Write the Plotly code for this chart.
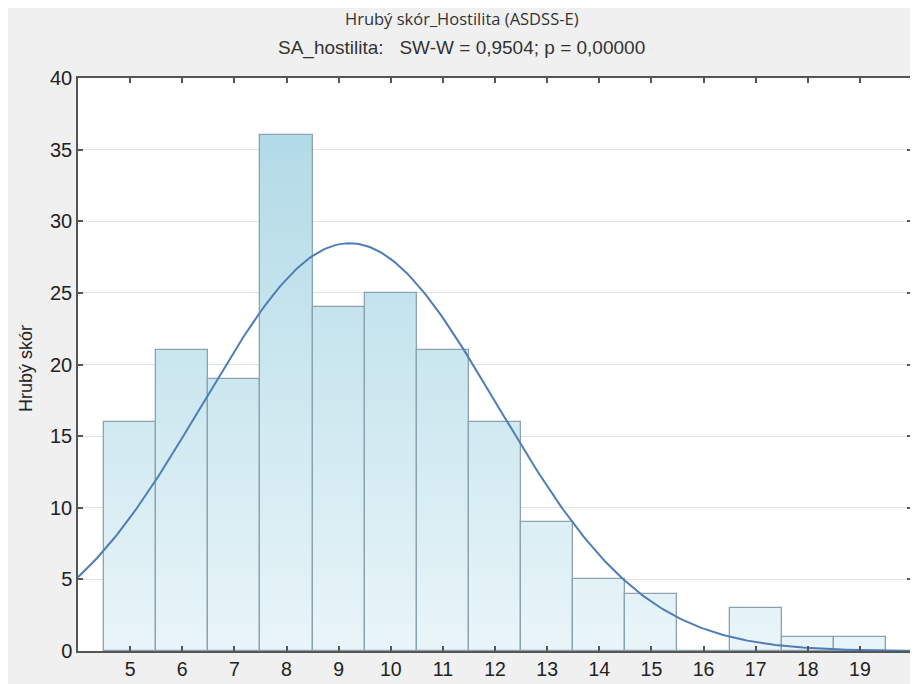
import numpy as np
import plotly.graph_objects as go

# histogram data
bins = [5, 6, 7, 8, 9, 10, 11, 12, 13, 14, 15, 16, 17, 18, 19]
counts = [16, 21, 19, 36, 24, 25, 21, 16, 9, 5, 4, 0, 3, 1, 1]
y_ticks = [0, 5, 10, 15, 20, 25, 30, 35, 40]

title_1 = "Hrubý skór_Hostilita (ASDSS-E)"
title_2 = "SA_hostilita:\u00a0\u00a0\u00a0SW-W = 0,9504; p = 0,00000"
y_title = "Hrubý skór"

# normal fit from the counts
xs = np.array(bins, dtype=float)
ns = np.array(counts, dtype=float)
n = ns.sum()
mean = (xs * ns).sum() / n
sd = np.sqrt(((xs - mean) ** 2 * ns).sum() / (n - 1))
curve_x = np.linspace(4, 20, 300)
curve_y = n * 1.0 / (sd * np.sqrt(2 * np.pi)) * np.exp(-0.5 * ((curve_x - mean) / sd) ** 2)


def grad_color(y):
    # light at the bottom, darker towards the top of the plot
    t = min(max(y / 40.0, 0), 1)
    c0 = np.array([233, 245, 249])
    c1 = np.array([172, 216, 229])
    c = c0 + (c1 - c0) * t
    return "rgb(%d,%d,%d)" % tuple(c.round())


# split bars into thin slices to get the vertical gradient
step = 0.5
seg_x, seg_base, seg_h, seg_col = [], [], [], []
for b, c in zip(bins, counts):
    k = 0.0
    while k < c:
        h = min(step, c - k)
        seg_x.append(b)
        seg_base.append(k)
        seg_h.append(h + 0.02 if k + h < c else h)
        seg_col.append(grad_color(k + h / 2))
        k += step

fig = go.Figure()
fig.add_trace(go.Bar(
    x=seg_x, y=seg_h, base=seg_base, width=1,
    marker=dict(color=seg_col, line=dict(width=0)),
    hoverinfo="skip", showlegend=False,
))
fig.add_trace(go.Bar(
    x=bins, y=counts, width=1,
    marker=dict(color="rgba(0,0,0,0)", line=dict(color="#8ba3ae", width=1.3)),
    showlegend=False,
))
fig.add_trace(go.Scatter(
    x=curve_x, y=curve_y, mode="lines",
    line=dict(color="#4f7db6", width=2),
    showlegend=False,
))

fig.update_layout(
    width=918, height=684,
    margin=dict(l=70, r=13, t=70, b=39),
    paper_bgcolor="#f0f0f0",
    plot_bgcolor="white",
    barmode="overlay",
    bargap=0,
    font=dict(family="Liberation Sans, Arial", color="#222"),
    annotations=[
        dict(text=title_1, xref="paper", yref="paper", x=0.46, y=1.0, yshift=60,
             showarrow=False, xanchor="center", yanchor="middle",
             font=dict(family="Open Sans, Noto Sans", size=16.5, color="#333")),
        dict(text=title_2, xref="paper", yref="paper", x=0.46, y=1.0, yshift=30,
             showarrow=False, xanchor="center", yanchor="middle",
             font=dict(family="Liberation Sans, Arial", size=19, color="#333")),
        dict(text=y_title, xref="paper", yref="paper", x=0, y=0.492, xshift=-52,
             textangle=-90, showarrow=False, xanchor="center", yanchor="middle",
             font=dict(family="Liberation Sans, Arial", size=18, color="#222")),
    ],
)

fig.update_xaxes(
    range=[4, 20], tickvals=bins, ticktext=[str(b) for b in bins],
    ticks="inside", ticklen=5, tickcolor="#555", tickwidth=1.5,
    showline=True, linecolor="#555", linewidth=1.5, mirror="ticks",
    showgrid=False, zeroline=False,
    tickfont=dict(size=19.5, color="#222"),
)
fig.update_yaxes(
    range=[0, 40], tickvals=y_ticks,
    ticks="inside", ticklen=5, tickcolor="#555", tickwidth=1.5,
    showline=True, linecolor="#555", linewidth=1.5, mirror="ticks",
    showgrid=True, gridcolor="#e3e3e3", gridwidth=1.2, zeroline=False,
    tickfont=dict(size=20, color="#222"),
)

fig.write_html("out.html")
